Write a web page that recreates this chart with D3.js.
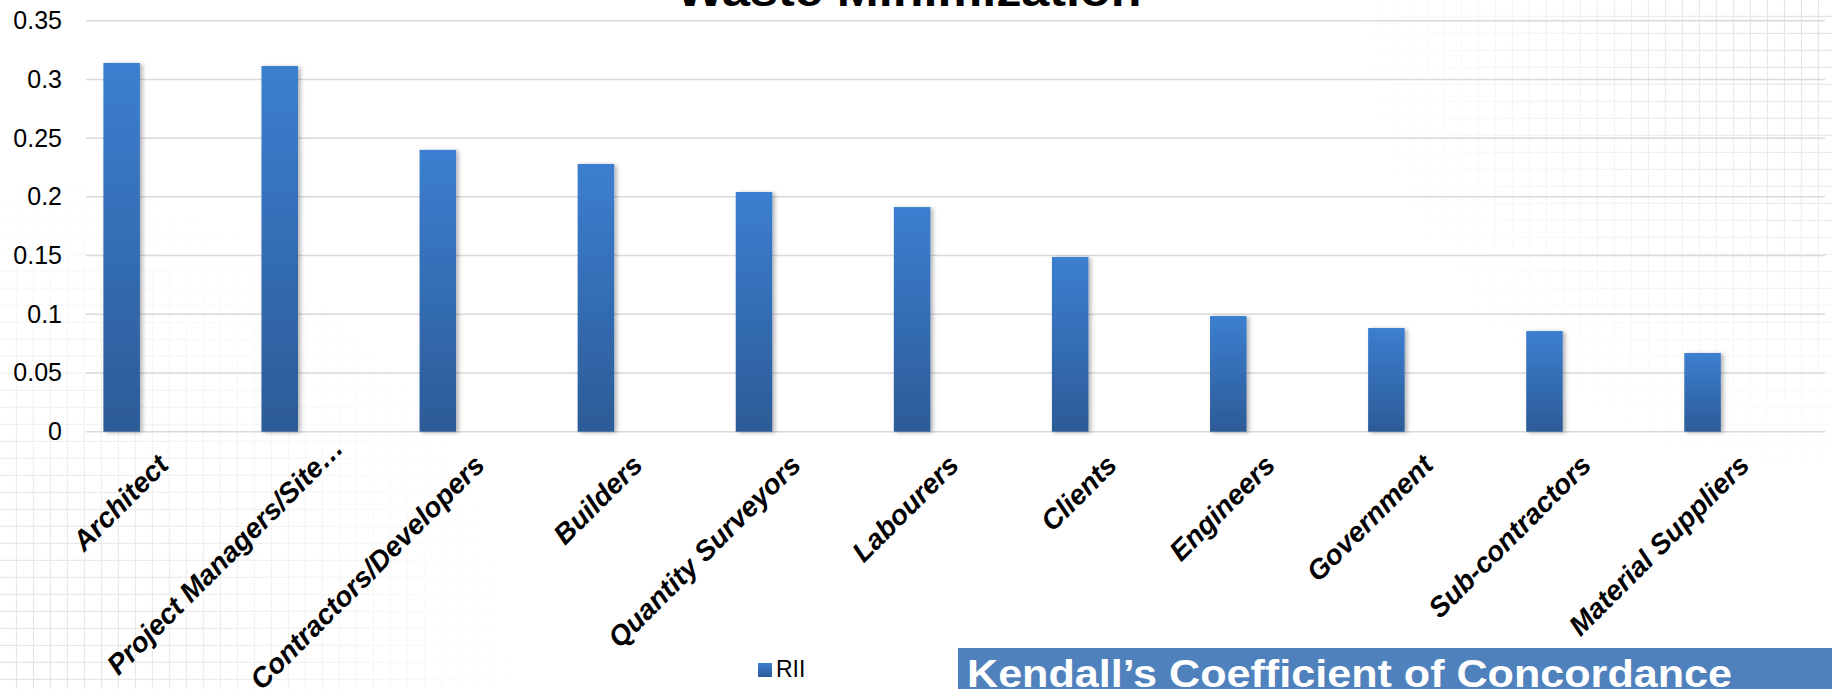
<!DOCTYPE html>
<html>
<head>
<meta charset="utf-8">
<script src="https://cdn.jsdelivr.net/npm/d3@7"></script>
<style>
  body { margin: 0; background: #fff; }
  svg { display: block; font-family: "Liberation Sans", Arial, sans-serif; }
</style>
</head>
<body>
<div id="chart"></div>
<script>
// chart data
const categories = ["Architect", "Project Managers/Site…", "Contractors/Developers", "Builders",
  "Quantity Surveyors", "Labourers", "Clients", "Engineers", "Government",
  "Sub-contractors", "Material Suppliers"];
const rii = [0.314, 0.3114, 0.240, 0.228, 0.2041, 0.1913, 0.1488, 0.0985, 0.0883, 0.0857, 0.067];
const yTicks = [0, 0.05, 0.1, 0.15, 0.2, 0.25, 0.3, 0.35];
const yTickLabels = ["0", "0.05", "0.1", "0.15", "0.2", "0.25", "0.3", "0.35"];
const seriesName = "RII";
const titleText = "Waste Minimization";
const bannerText = "Kendall’s Coefficient of Concordance";

const width = 1832, height = 689;
const margin = {top: 20.7, right: 7, bottom: 257.3, left: 86};

const svg = d3.select("#chart")
  .append("svg")
  .attr("width", width)
  .attr("height", height)
  .attr("viewBox", [0, 0, width, height]);

const defs = svg.append("defs");

// faint squared paper in two corners
defs.append("pattern")
    .attr("id", "paper")
    .attr("width", 17).attr("height", 17)
    .attr("patternUnits", "userSpaceOnUse")
  .append("path")
    .attr("d", "M16.5 0V17M0 16.5H17")
    .attr("fill", "none")
    .attr("stroke", "#e2e2e2")
    .attr("stroke-width", 1.3);

function fade(id, cx, cy, r) {
  const g = defs.append("radialGradient")
      .attr("id", id + "-g")
      .attr("gradientUnits", "userSpaceOnUse")
      .attr("cx", cx).attr("cy", cy).attr("r", r);
  g.append("stop").attr("offset", 0).attr("stop-color", "#fff");
  g.append("stop").attr("offset", 0.45).attr("stop-color", "#999");
  g.append("stop").attr("offset", 1).attr("stop-color", "#000");
  defs.append("mask").attr("id", id)
    .append("rect")
      .attr("width", width).attr("height", height)
      .attr("fill", `url(#${id}-g)`);
}
fade("fadeBL", 0, height, 520);
fade("fadeTR", width, 0, 480);

svg.append("rect").attr("width", width).attr("height", height)
  .attr("fill", "url(#paper)").attr("mask", "url(#fadeBL)");
svg.append("rect").attr("width", width).attr("height", height)
  .attr("fill", "url(#paper)").attr("mask", "url(#fadeTR)");

// bar gradient and shadow
const grad = defs.append("linearGradient")
    .attr("id", "barFill")
    .attr("x1", 0).attr("y1", 0).attr("x2", 0).attr("y2", 1);
grad.append("stop").attr("offset", 0).attr("stop-color", "#3c7fd0");
grad.append("stop").attr("offset", 1).attr("stop-color", "#2c5b97");

defs.append("filter")
    .attr("id", "shadow")
    .attr("x", "-30%").attr("y", "-5%").attr("width", "170%").attr("height", "110%")
  .append("feDropShadow")
    .attr("dx", 2.5).attr("dy", 1)
    .attr("stdDeviation", 2)
    .attr("flood-color", "#000")
    .attr("flood-opacity", 0.3);

// scales
const x = d3.scaleBand()
  .domain(categories)
  .range([margin.left, width - margin.right])
  .padding(0);

const y = d3.scaleLinear()
  .domain([0, 0.35])
  .range([height - margin.bottom, margin.top]);

// gridlines
svg.append("g")
  .selectAll("line")
  .data(yTicks)
  .enter()
  .append("line")
    .attr("x1", margin.left)
    .attr("x2", width - margin.right)
    .attr("y1", d => y(d))
    .attr("y2", d => y(d))
    .attr("stroke", "#d9d9d9")
    .attr("stroke-width", 1.5);

// y axis labels
const yAxis = svg.append("g")
  .attr("transform", `translate(${margin.left}, 0)`)
  .call(d3.axisLeft(y)
    .tickValues(yTicks)
    .tickFormat((d, i) => yTickLabels[i])
    .tickSize(0)
    .tickPadding(24));
yAxis.select(".domain").remove();
yAxis.selectAll("text")
  .attr("font-size", "25px")
  .attr("font-family", "Liberation Sans, Arial, sans-serif")
  .attr("fill", "#000");

// bars
const bw = x.bandwidth();
svg.append("g")
  .selectAll("rect")
  .data(rii)
  .enter()
  .append("rect")
    .attr("x", (d, i) => x(categories[i]) + bw * 0.11)
    .attr("width", bw * 0.231)
    .attr("y", d => y(d))
    .attr("height", d => y(0) - y(d))
    .attr("fill", "url(#barFill)")
    .attr("filter", "url(#shadow)");

// x axis labels, rotated (truncated label sits a bit further up the diagonal)
const xAxis = svg.append("g")
  .attr("transform", `translate(0, ${y(0)})`)
  .call(d3.axisBottom(x).tickSize(0));
xAxis.select(".domain").remove();
xAxis.selectAll("text")
  .attr("x", 0)
  .attr("y", 0)
  .attr("dy", 0)
  .attr("transform", d => d.endsWith("…")
    ? "translate(22,18) rotate(-45)"
    : "translate(5,35) rotate(-45)")
  .attr("text-anchor", "end")
  .attr("font-size", "28px")
  .attr("font-weight", "bold")
  .attr("font-style", "italic")
  .attr("font-family", "Liberation Sans, Arial, sans-serif")
  .attr("fill", "#000");

// title (mostly cut off at the top)
svg.append("text")
  .attr("x", 909)
  .attr("y", 6)
  .attr("text-anchor", "middle")
  .attr("font-size", "44px")
  .attr("font-weight", "bold")
  .attr("textLength", 465)
  .attr("lengthAdjust", "spacingAndGlyphs")
  .attr("fill", "#000")
  .text(titleText);

// legend
svg.append("rect")
  .attr("x", 758).attr("y", 663)
  .attr("width", 14).attr("height", 14)
  .attr("fill", "url(#barFill)");
svg.append("text")
  .attr("x", 776).attr("y", 677)
  .attr("font-size", "23px")
  .attr("fill", "#000")
  .text(seriesName);

// banner
svg.append("rect")
  .attr("x", 958).attr("y", 648)
  .attr("width", width - 958).attr("height", height - 648)
  .attr("fill", "#4f81bd");
svg.append("text")
  .attr("x", 967).attr("y", 687)
  .attr("font-size", "38px")
  .attr("font-weight", "bold")
  .attr("textLength", 765)
  .attr("lengthAdjust", "spacingAndGlyphs")
  .attr("fill", "#fff")
  .text(bannerText);
</script>
</body>
</html>
